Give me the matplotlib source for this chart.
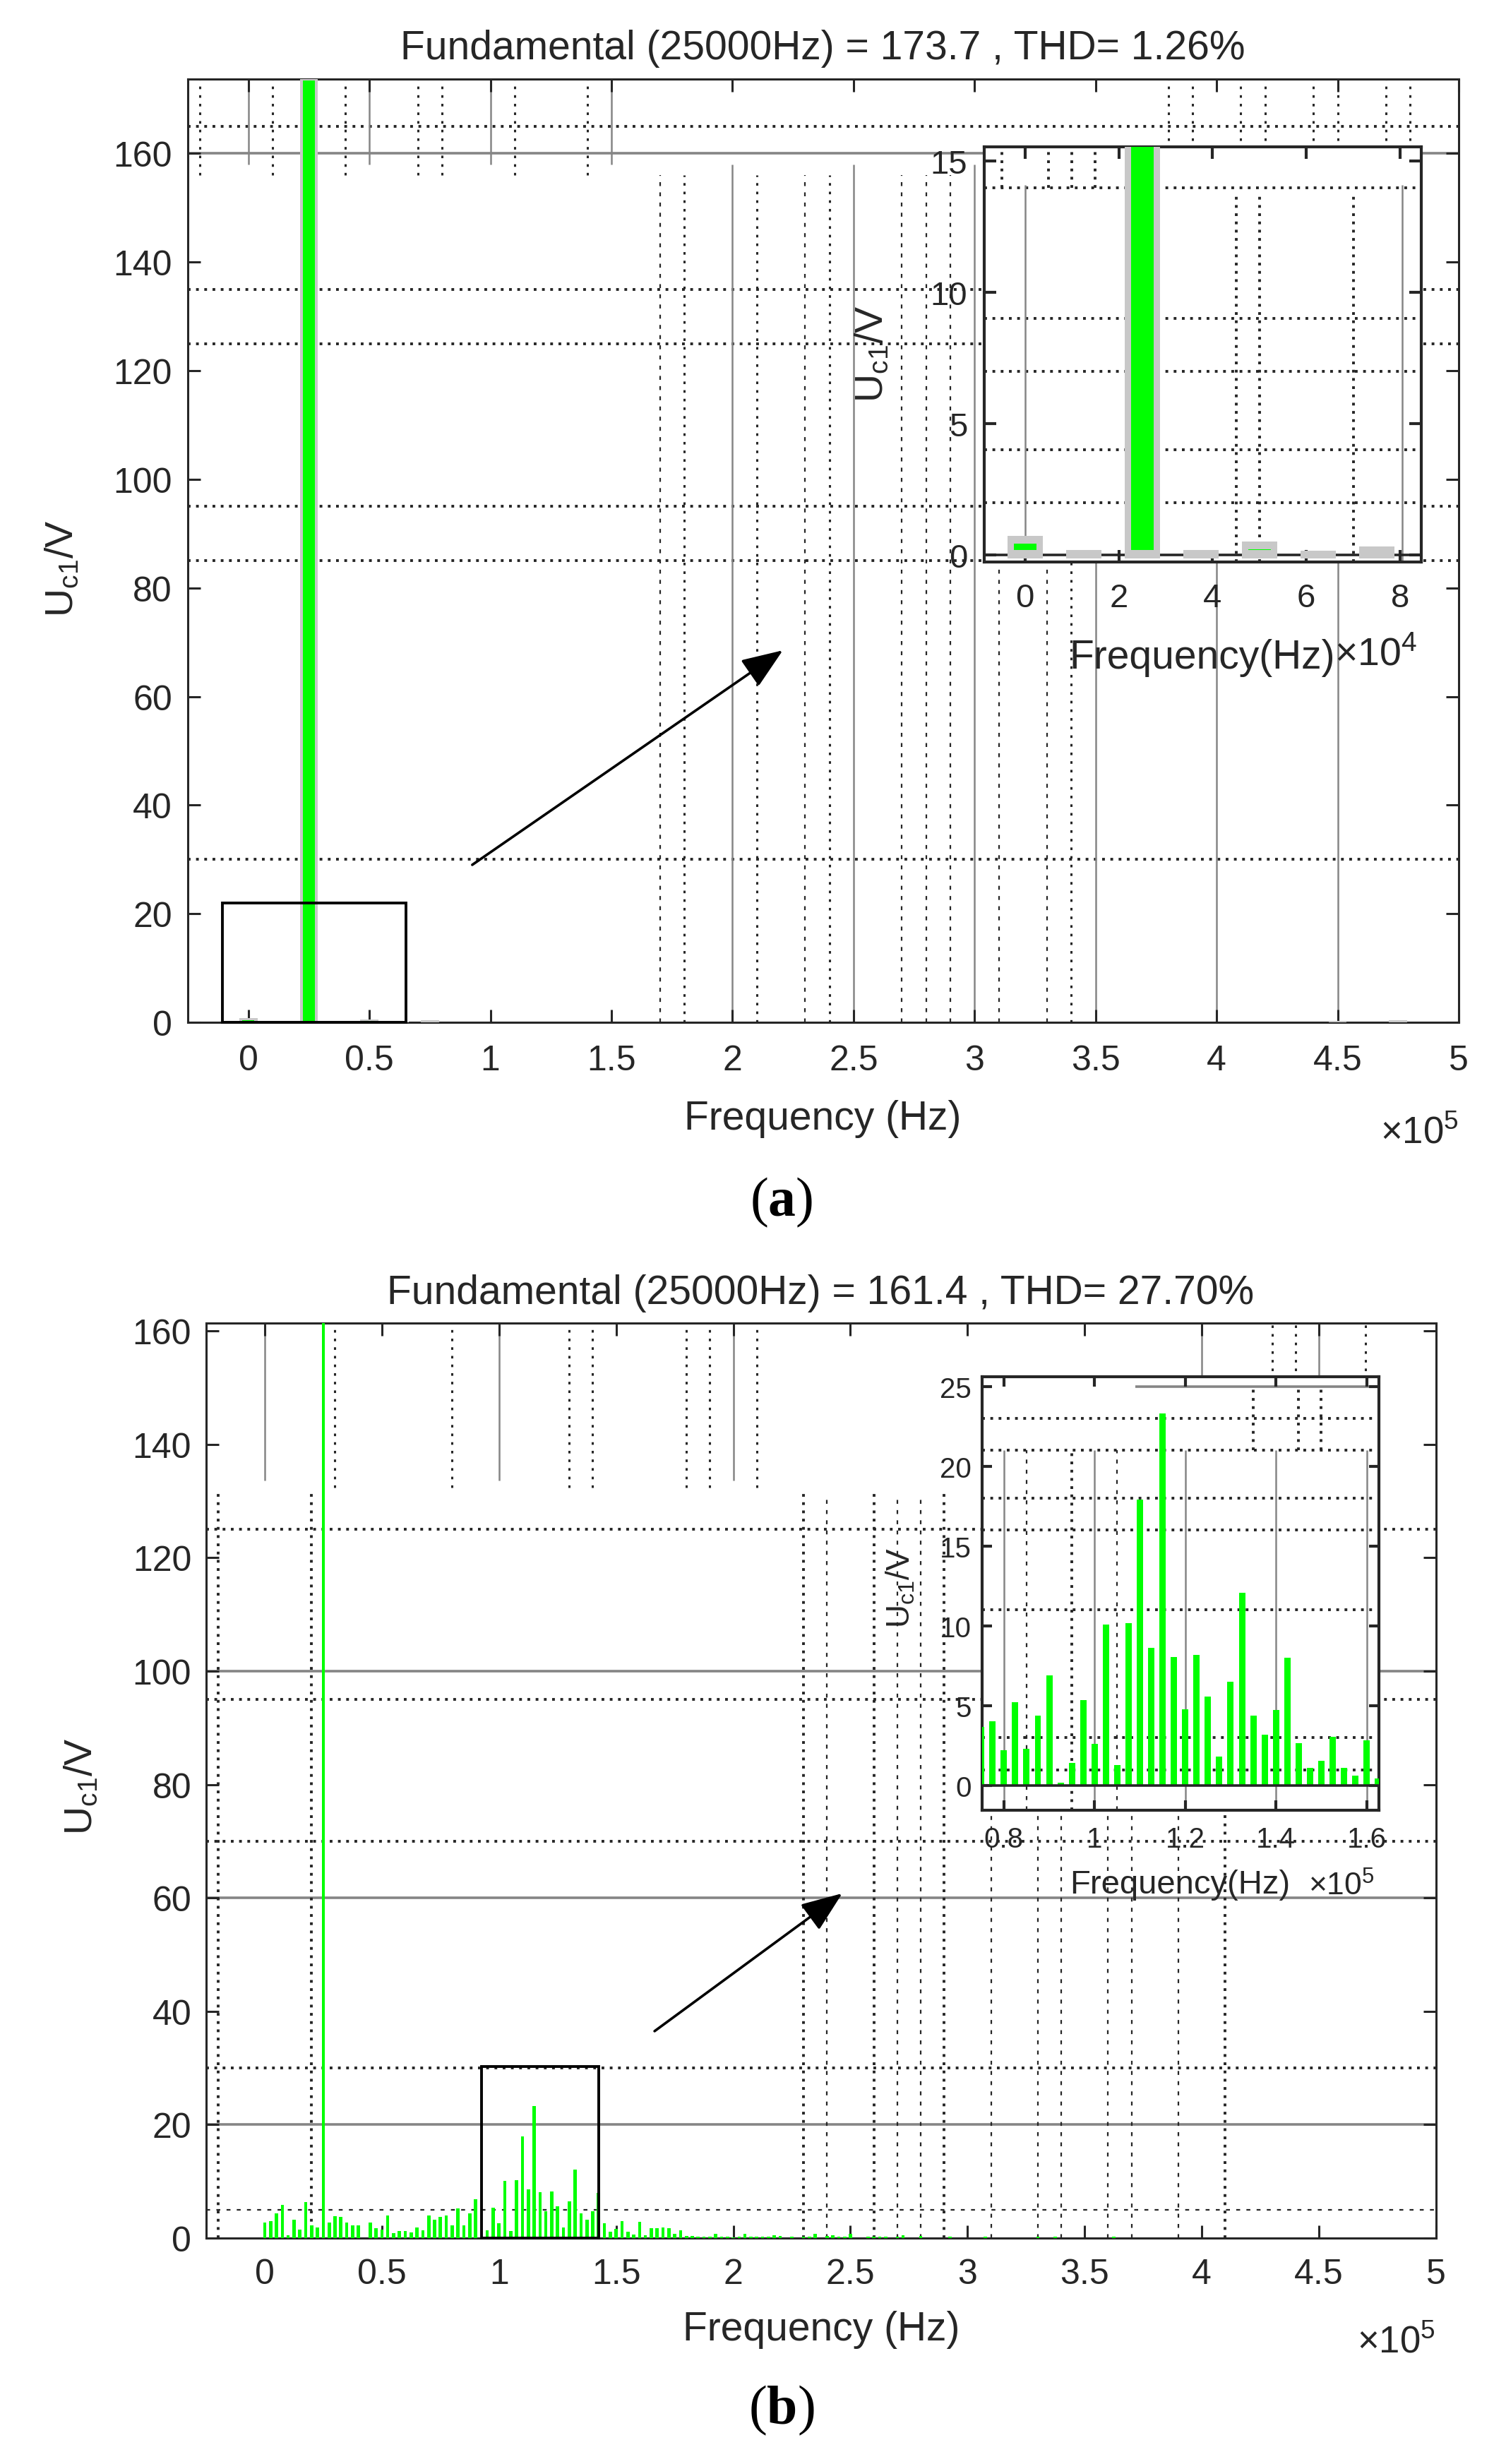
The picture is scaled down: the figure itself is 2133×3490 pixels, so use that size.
import matplotlib
matplotlib.use('Agg')
import matplotlib.pyplot as plt
from matplotlib.patches import Rectangle

# ---------------- data ----------------
title_a = "Fundamental (25000Hz) = 173.7 , THD= 1.26%"
title_b = "Fundamental (25000Hz) = 161.4 , THD= 27.70%"

# (a) spectrum: frequency (Hz) and amplitude (V)
freq_a = [0, 12500, 25000, 37500, 50000, 62500, 75000, 450000, 475000]
mag_a = [0.73, 0.19, 173.7, 0.19, 0.50, 0.16, 0.33, 0.30, 0.35]

# (b) spectrum: frequency (Hz) and amplitude (V)
freq_b = [0, 2500, 5000, 7500, 10000, 12500, 15000, 17500, 20000, 22500,
          25000, 27500, 30000, 32500, 35000, 37500, 40000, 45000, 47500, 50000,
          52500, 55000, 57500, 60000, 62500, 65000, 67500, 70000, 72500, 75000,
          77500, 80000, 82500, 85000, 87500, 90000, 92500, 95000, 97500, 100000,
          102500, 105000, 107500, 110000, 112500, 115000, 117500, 120000, 122500, 125000,
          127500, 130000, 132500, 135000, 137500, 140000, 142500, 145000, 147500, 150000,
          152500, 155000, 157500, 160000, 162500, 165000, 167500, 170000, 172500, 175000,
          177500, 180000, 182500, 185000, 187500, 190000, 192500, 195000, 197500, 200000,
          202500, 205000, 207500, 210000, 212500, 215000, 217500, 220000, 225000, 230000,
          232500, 235000, 240000, 242500, 245000, 247500, 250000, 257500, 260000, 262500,
          265000, 270000, 272500, 280000, 292500, 307500, 330000, 337500, 362500]
mag_b = [2.8, 3.0, 4.4, 5.8, 0.5, 3.2, 1.5, 6.3, 2.2, 1.9,
         161.4, 2.7, 3.8, 3.7, 2.8, 2.2, 2.3, 2.7, 1.7, 1.5,
         4.0, 0.9, 1.2, 1.2, 1.0, 1.9, 1.4, 4.0, 3.3, 3.68,
         4.04, 2.21, 5.21, 2.30, 4.38, 6.91, 0.18, 1.42, 5.35, 2.62,
         10.09, 1.29, 10.18, 17.9, 8.62, 23.32, 8.06, 4.79, 8.19, 5.58,
         1.83, 6.50, 12.08, 4.38, 3.18, 4.74, 8.01, 2.66, 1.11, 1.56,
         3.05, 1.11, 0.63, 2.84, 0.45, 1.8, 1.7, 1.9, 1.7, 0.7,
         1.4, 0.4, 0.4, 0.3, 0.3, 0.3, 0.7, 0.2, 0.3, 0.1,
         0.2, 0.7, 0.3, 0.3, 0.3, 0.3, 0.5, 0.4, 0.3, 0.3,
         0.3, 0.7, 0.4, 0.5, 0.2, 0.3, 0.7, 0.3, 0.3, 0.3,
         0.3, 0.2, 0.5, 0.4, 0.2, 0.2, 0.2, 0.2, 0.2]

main_xticks = [0, 50000, 100000, 150000, 200000, 250000, 300000, 350000, 400000, 450000, 500000]
main_xticklabels = ['0', '0.5', '1', '1.5', '2', '2.5', '3', '3.5', '4', '4.5', '5']
main_yticks = [0, 20, 40, 60, 80, 100, 120, 140, 160]
inset_a_xticks = [0, 20000, 40000, 60000, 80000]
inset_a_xticklabels = ['0', '2', '4', '6', '8']
inset_a_yticks = [0, 5, 10, 15]
inset_b_xticks = [80000, 100000, 120000, 140000, 160000]
inset_b_xticklabels = ['0.8', '1', '1.2', '1.4', '1.6']
inset_b_yticks = [0, 5, 10, 15, 20, 25]

ylabel_text = r'$\mathregular{U_{c1}/V}$'
xlabel_main = 'Frequency (Hz)'
xlabel_inset = 'Frequency(Hz)'

# ---------------- styling ----------------
plt.rcParams['font.family'] = ['Liberation Sans', 'DejaVu Sans']
plt.rcParams['mathtext.fontset'] = 'custom'
plt.rcParams['mathtext.rm'] = 'Liberation Sans'
plt.rcParams['mathtext.it'] = 'Liberation Sans:italic'
plt.rcParams['mathtext.bf'] = 'Liberation Serif:bold'

W, H = 2133, 3491
DPI = 100
fig = plt.figure(figsize=(W / DPI, H / DPI), dpi=DPI)
fig.patch.set_facecolor('white')

INK = '#262626'
GREEN = '#00FF00'
GRAY = '#C8C8C8'
GRID = '#858585'

BOLD_DOT = dict(color=INK, lw=2.8, linestyle=(0, (1, 2.0)))
MED_DOT = dict(color=INK, lw=2.2, linestyle=(0, (1.2, 2.8)))
FINE_DOT = dict(color=INK, lw=1.6, linestyle=(0, (2.5, 4)))
SOLID_G = dict(color=GRID, lw=2.6, linestyle='-')
SOLID_V = dict(color=GRID, lw=1.8, linestyle='-')


def box(l, t, r, b):
    return [l / W, 1 - b / H, (r - l) / W, (b - t) / H]


def ftext(x, y, s, **kw):
    kw.setdefault('color', INK)
    fig.text(x / W, 1 - y / H, s, **kw)


def style_axes(ax, lw, size, xpad, ypad, tlen):
    for s in ax.spines.values():
        s.set_linewidth(lw)
        s.set_color(INK)
    ax.tick_params(direction='in', top=True, right=True, length=tlen, width=lw,
                   colors=INK, labelsize=size)
    ax.tick_params(axis='x', pad=xpad)
    ax.tick_params(axis='y', pad=ypad)


def vl(ax, xs, y0, y1, style, scale=1e5):
    for x in xs:
        ax.vlines(x * scale, y0, y1, zorder=1, **style)


def hl(ax, ys, style):
    for y in ys:
        ax.axhline(y, zorder=1, **style)


def draw_a_bars(ax):
    ax.bar(freq_a, [m + 0.14 for m in mag_a], bottom=-0.14, width=7500,
           color=GRAY, zorder=3)
    gf = [f for f, m in zip(freq_a, mag_a) if m - 0.29 > 0.18]
    gm = [m - 0.29 - 0.18 for m in mag_a if m - 0.29 > 0.18]
    ax.bar(gf, gm, bottom=0.18, width=4800, color=GREEN, zorder=4)


# ================= panel (a) =================
axA = fig.add_axes(box(266, 113, 2066, 1449))
axA.set_xlim(-25000, 500000)
axA.set_ylim(0, 173.7)
style_axes(axA, 2.2, 36, 22, 16, 13)
axA.set_xticks(main_xticks)
axA.set_xticklabels(main_xticklabels)
axA.set_yticks(main_yticks)

hl(axA, [165, 135, 125, 95, 85, 30], BOLD_DOT)
hl(axA, [160], SOLID_G)
vl(axA, [-0.2, 0.1, 0.4, 0.7, 0.8, 1.1, 1.4, 3.8, 3.9, 4.1, 4.2, 4.4, 4.5, 4.7, 4.8], 156, 173.7, MED_DOT)
vl(axA, [0, 0.5, 1.0, 1.5], 158, 173.7, SOLID_V)
vl(axA, [1.8, 2.1, 2.4, 3.4], 0, 156, MED_DOT)
vl(axA, [1.7, 2.3, 2.7, 2.8, 2.9, 3.1, 3.3], 0, 156, FINE_DOT)
vl(axA, [2.0, 2.5, 3.0, 3.5, 4.0, 4.5], 0, 158, SOLID_V)

draw_a_bars(axA)

axA.add_patch(Rectangle((-10800, 0), 76000, 22, fill=False, lw=2.8,
                        ec='black', zorder=6, clip_on=False))
axA.annotate('', xy=(220800, 68.5), xytext=(92500, 29.0),
             arrowprops=dict(arrowstyle='-|>,head_length=0.9,head_width=0.35',
                             lw=2.6, color='black', mutation_scale=40,
                             shrinkA=0, shrinkB=0), zorder=6)

# inset (a)
insA = fig.add_axes(box(1394, 209, 2013, 797))
insA.set_facecolor('white')
insA.set_xlim(-8700, 84500)
insA.set_ylim(-0.27, 15.55)
style_axes(insA, 3.0, 34, 21, 17, 12)
insA.set_xticks(inset_a_xticks)
insA.set_xticklabels(inset_a_xticklabels)
insA.set_yticks(inset_a_yticks)
hl(insA, [14, 9, 7, 4, 2], BOLD_DOT)
vl(insA, [0, 80500], -0.27, 14.1, SOLID_V, scale=1)
vl(insA, [-5000, 5000, 10000, 15000], 14, 15.55, BOLD_DOT, scale=1)
vl(insA, [45000, 50000, 70000], -0.27, 13.8, BOLD_DOT, scale=1)
insA.axhline(0, color=INK, lw=2.6, zorder=2)
draw_a_bars(insA)

# texts (a)
ftext(1165, 69, title_a, fontsize=41, ha='center', va='center')
ftext(1165, 1585, xlabel_main, fontsize=41, ha='center', va='center')
ftext(2066, 1605, r'$\mathregular{\times10^{5}}$', fontsize=38, ha='right', va='center')
ftext(89, 805, ylabel_text, fontsize=40, ha='center', va='center', rotation=90)
ftext(1703, 932, xlabel_inset, fontsize=41, ha='center', va='center')
ftext(1890, 928, r'$\mathregular{\times10^{4}}$', fontsize=40, ha='left', va='center')
ftext(1236, 501, ylabel_text, fontsize=40, ha='center', va='center', rotation=90)
ftext(1107, 1703, r'($\mathbf{a}$)', fontsize=56, ha='center', va='center',
      family='Liberation Serif', color='black')

# ================= panel (b) =================
axB = fig.add_axes(box(292, 1875, 2034, 3171))
axB.set_xlim(-25000, 500000)
axB.set_ylim(0, 161.4)
style_axes(axB, 2.2, 36, 20, 15, 13)
axB.set_xticks(main_xticks)
axB.set_xticklabels(main_xticklabels)
axB.set_yticks(main_yticks)

hl(axB, [100, 60, 20], SOLID_G)
hl(axB, [125, 95, 70, 30], BOLD_DOT)
hl(axB, [5], FINE_DOT)
vl(axB, [0, 1.0, 2.0], 133.6, 161.4, SOLID_V)
vl(axB, [4.0, 4.5], 150, 161.4, SOLID_V)
vl(axB, [0.3, 0.8, 1.3, 1.4, 1.8, 1.9, 2.1], 132.4, 161.4, MED_DOT)
vl(axB, [4.3, 4.4, 4.7], 150, 161.4, MED_DOT)
vl(axB, [-0.2, 0.2, 2.3, 2.6, 2.9, 4.1], 0, 131.2, BOLD_DOT)
vl(axB, [2.4, 2.7, 2.8, 3.1, 3.3, 3.4, 3.6, 3.7, 3.9], 0, 131.2, FINE_DOT)

axB.bar(freq_b, mag_b, width=1400, color=GREEN, zorder=3)

axB.add_patch(Rectangle((92600, 0), 50100, 30.3, fill=False, lw=2.8,
                        ec='black', zorder=6, clip_on=False))
axB.annotate('', xy=(246500, 60.8), xytext=(166400, 36.5),
             arrowprops=dict(arrowstyle='-|>,head_length=0.9,head_width=0.35',
                             lw=2.6, color='black', mutation_scale=40,
                             shrinkA=0, shrinkB=0), zorder=6)

# inset (b)
insB = fig.add_axes(box(1391, 1951, 1953, 2565))
insB.set_facecolor('white')
insB.set_xlim(75200, 162700)
insB.set_ylim(-1.53, 25.6)
style_axes(insB, 3.0, 29, 16, 11, 10)
insB.set_xticks(inset_b_xticks)
insB.set_xticklabels(inset_b_xticklabels)
insB.set_yticks(inset_b_yticks)
hl(insB, [23, 21, 18, 16, 11, 3, 1], BOLD_DOT)
insB.hlines(25, 109000, 162700, zorder=1, **SOLID_G)
vl(insB, [0.8, 1.0, 1.2, 1.4, 1.6], -1.53, 21, SOLID_V)
vl(insB, [0.95], -1.53, 21, BOLD_DOT)
vl(insB, [0.85, 1.05], -1.53, 21, FINE_DOT)
vl(insB, [1.35, 1.45, 1.50], 21, 25, BOLD_DOT)
insB.bar(freq_b, mag_b, width=1400, color=GREEN, zorder=3)
insB.axhline(0, color=INK, lw=2.6, zorder=4)

# texts (b)
ftext(1162, 1832, title_b, fontsize=41, ha='center', va='center')
ftext(1163, 3300, xlabel_main, fontsize=41, ha='center', va='center')
ftext(2033, 3318, r'$\mathregular{\times10^{5}}$', fontsize=38, ha='right', va='center')
ftext(116, 2530, ylabel_text, fontsize=40, ha='center', va='center', rotation=90)
ftext(1671, 2670, xlabel_inset, fontsize=34, ha='center', va='center')
ftext(1853, 2672, r'$\mathregular{\times10^{5}}$', fontsize=32, ha='left', va='center')
ftext(1276, 2249, ylabel_text, fontsize=33, ha='center', va='center', rotation=90)
ftext(1107, 3414, r'($\mathbf{b}$)', fontsize=56, ha='center', va='center',
      family='Liberation Serif', color='black')

fig.savefig('out.png', dpi=DPI)
